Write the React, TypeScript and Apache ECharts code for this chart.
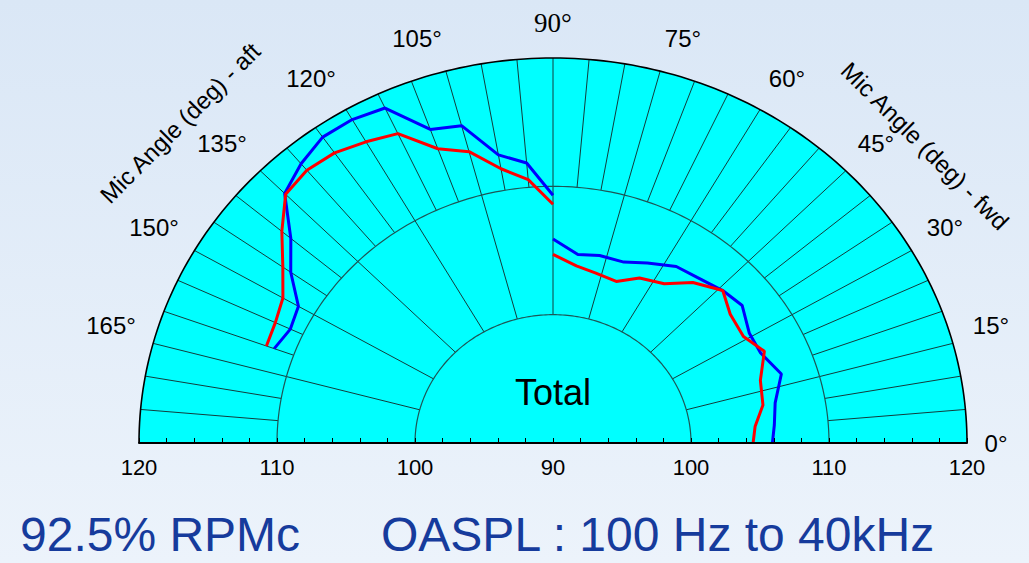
import React, { useEffect, useRef } from 'react';
import * as echarts from 'echarts';

// ---------- data ----------
const CENTER_DB = 90;
const ringLevels = [100, 110, 120];
const majorSpokeAngles = [15, 30, 45, 60, 75, 90, 105, 120, 135, 150, 165];
const minorSpokeAngles = [5, 10, 20, 25, 35, 40, 50, 55, 65, 70, 80, 85, 95, 100, 110, 115, 125, 130, 140, 145, 155, 160, 170, 175];
const radialTickLabels = [120, 110, 100, 90, 100, 110, 120];
const angleTickLabels = ['0°', '15°', '30°', '45°', '60°', '75°', '90°', '105°', '120°', '135°', '150°', '165°'];

const fwdAngles = [90, 83, 77, 70, 64, 57, 51, 44, 38, 31, 25, 18, 11, 5, 0];
const blueFwd = [105.9, 104.8, 105.0, 105.0, 105.6, 106.4, 106.6, 107.1, 107.4, 106.6, 106.6, 107.4, 106.4, 106.1, 105.9];
const redFwd = [104.7, 103.9, 103.6, 103.4, 104.3, 104.8, 106.1, 107.1, 106.3, 106.1, 106.9, 105.8, 105.5, 104.7, 104.5];

const aftAngles = [90, 95, 100, 105, 110, 115, 120, 125, 130, 135, 140, 145, 150, 155, 160];
const blueAft = [109.3, 111.9, 112.8, 115.6, 116.0, 118.8, 119.1, 119.1, 118.4, 117.5, 114.8, 113.2, 111.3, 111.0, 111.5];
const redAft = [108.6, 110.6, 111.7, 113.5, 114.4, 116.6, 117.1, 117.6, 117.75, 117.4, 115.65, 113.9, 112.6, 112.2, 112.1];

// ---------- layout ----------
const angleLabelPos: [number, number][] = [
  [996, 443], [991, 325], [945, 227], [876, 143], [787, 78], [683, 38],
  [553, 23], [417, 38], [311, 78], [222, 143], [154, 227], [111, 325],
];
const FONT = '"Liberation Sans", Arial, Helvetica, sans-serif';

const rad = (d: number) => (d * Math.PI) / 180;
const toXY = (angle: number, db: number): [number, number] => {
  const r = db - CENTER_DB;
  return [r * Math.cos(rad(angle)), r * Math.sin(rad(angle))];
};

export default function App() {
  const ref = useRef<HTMLDivElement>(null);
  useEffect(() => {
    if (!ref.current) return;
    const chart = echarts.init(ref.current, undefined, { renderer: 'svg' });
    const maxR = ringLevels[ringLevels.length - 1] - CENTER_DB;

    const gridRender = (params: any, api: any) => {
      const pt = (deg: number, r: number) => api.coord([r * Math.cos(rad(deg)), r * Math.sin(rad(deg))]);
      const arc = (r: number) => {
        const pts: number[][] = [];
        for (let a = 0; a <= 180; a += 1) pts.push(pt(a, r));
        return pts;
      };
      const children: any[] = [];
      children.push({ type: 'polygon', shape: { points: arc(maxR) }, style: { fill: '#00ffff', stroke: 'none' } });
      const r1 = ringLevels[0] - CENTER_DB;
      const r2 = ringLevels[1] - CENTER_DB;
      majorSpokeAngles.forEach((a) => {
        const p0 = pt(a, r1);
        const p1 = pt(a, maxR);
        children.push({ type: 'line', shape: { x1: p0[0], y1: p0[1], x2: p1[0], y2: p1[1] }, style: { stroke: '#123c3c', lineWidth: 1 } });
      });
      minorSpokeAngles.forEach((a) => {
        const p0 = pt(a, r2);
        const p1 = pt(a, maxR);
        children.push({ type: 'line', shape: { x1: p0[0], y1: p0[1], x2: p1[0], y2: p1[1] }, style: { stroke: '#123c3c', lineWidth: 1 } });
      });
      ringLevels.slice(0, -1).forEach((lv) => {
        children.push({ type: 'polyline', shape: { points: arc(lv - CENTER_DB) }, style: { stroke: '#1d5656', lineWidth: 1.2, fill: 'none' } });
      });
      children.push({ type: 'polyline', shape: { points: arc(maxR) }, style: { stroke: '#000', lineWidth: 1.6, fill: 'none' } });
      return { type: 'group', children };
    };

    const lineSeries = (name: string, angles: number[], vals: number[], color: string) => ({
      name,
      type: 'line',
      data: angles.map((a, i) => toXY(a, vals[i])),
      showSymbol: false,
      symbol: 'none',
      silent: true,
      z: 5,
      lineStyle: { color, width: 3 },
    });

    const graphics: any[] = [];
    angleTickLabels.forEach((t, i) => {
      const [x, y] = angleLabelPos[i];
      const serif = t === '90°';
      graphics.push({
        type: 'text', x, y,
        style: {
          text: t, fill: '#000', align: 'center', verticalAlign: 'middle',
          font: serif ? `27px "Liberation Serif", "Times New Roman", serif` : `24px ${FONT}`,
        },
      });
    });
    graphics.push({
      type: 'text', x: 180, y: 123, rotation: Math.PI / 4,
      style: { text: 'Mic Angle (deg) - aft', fill: '#000', align: 'center', verticalAlign: 'middle', font: `24px ${FONT}` },
    });
    graphics.push({
      type: 'text', x: 925, y: 146, rotation: -Math.PI / 4,
      style: { text: 'Mic Angle (deg) - fwd', fill: '#000', align: 'center', verticalAlign: 'middle', font: `24px ${FONT}` },
    });
    graphics.push({
      type: 'text', x: 553, y: 392, z: 10,
      style: { text: 'Total', fill: '#000', align: 'center', verticalAlign: 'middle', font: `36px ${FONT}` },
    });
    graphics.push({
      type: 'text', x: 20, y: 534,
      style: { text: '92.5% RPMc', fill: '#163b9c', align: 'left', verticalAlign: 'middle', font: `48px ${FONT}` },
    });
    graphics.push({
      type: 'text', x: 381, y: 534,
      style: { text: 'OASPL : 100 Hz to 40kHz', fill: '#163b9c', align: 'left', verticalAlign: 'middle', font: `48px ${FONT}` },
    });

    chart.setOption({
      animation: false,
      backgroundColor: {
        type: 'linear', x: 0, y: 0, x2: 0, y2: 1,
        colorStops: [{ offset: 0, color: '#dae7f6' }, { offset: 1, color: '#ecf3fb' }],
      },
      grid: { left: 139, right: 62, top: 58, bottom: 120 },
      xAxis: {
        type: 'value', min: -maxR, max: maxR, interval: 2, z: 10,
        axisLine: { lineStyle: { color: '#000', width: 2 } },
        axisTick: { inside: true, length: 5, lineStyle: { color: '#000', width: 1 } },
        splitLine: { show: false },
        axisLabel: {
          margin: 13, fontSize: 22, color: '#000', fontFamily: FONT,
          formatter: (v: number) => {
            const k = Math.round(v);
            if (k % 10 !== 0) return '';
            const idx = (k + maxR) / 10;
            return String(radialTickLabels[idx]);
          },
        },
      },
      yAxis: { type: 'value', min: 0, max: maxR, show: false },
      graphic: graphics,
      series: [
        { type: 'custom', coordinateSystem: 'cartesian2d', data: [[0, 0]], renderItem: gridRender, silent: true, z: 1, clip: false },
        lineSeries('blue fwd', fwdAngles, blueFwd, '#0000ff'),
        lineSeries('blue aft', aftAngles, blueAft, '#0000ff'),
        lineSeries('red fwd', fwdAngles, redFwd, '#ff0000'),
        lineSeries('red aft', aftAngles, redAft, '#ff0000'),
      ],
    });
    return () => chart.dispose();
  }, []);
  return <div ref={ref} style={{ position: 'absolute', left: 0, top: 0, width: 1029, height: 563 }} />;
}
